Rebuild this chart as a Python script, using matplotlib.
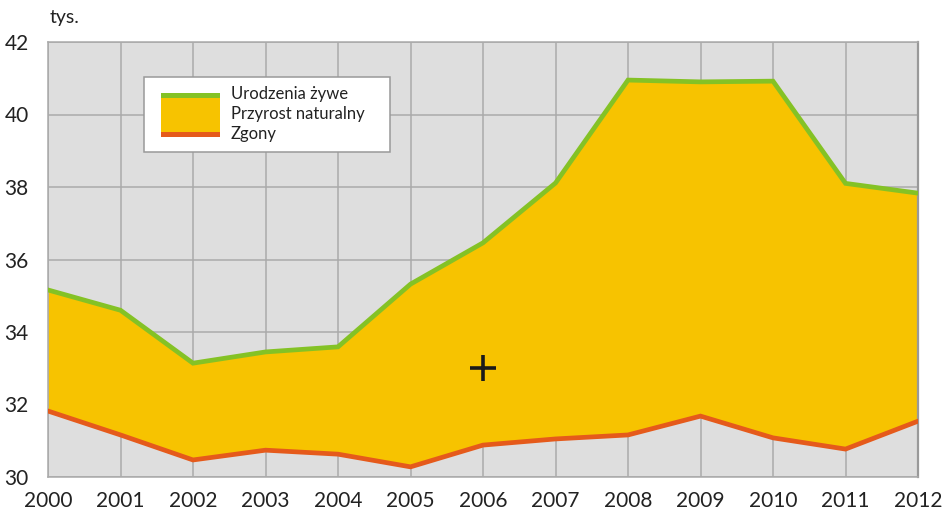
import matplotlib
matplotlib.use('Agg')
import matplotlib.pyplot as plt
from matplotlib.patches import Rectangle

# dane: urodzenia i zgony (tys.)
years = [2000, 2001, 2002, 2003, 2004, 2005, 2006, 2007, 2008, 2009, 2010, 2011, 2012]
births = [35.16, 34.6, 33.14, 33.45, 33.59, 35.32, 36.46, 38.11, 40.95, 40.9, 40.92, 38.1, 37.83]
deaths = [31.82, 31.16, 30.47, 30.74, 30.63, 30.28, 30.88, 31.05, 31.16, 31.68, 31.08, 30.77, 31.54]
y_ticks = [30, 32, 34, 36, 38, 40, 42]
legend_labels = ['Urodzenia żywe', 'Przyrost naturalny', 'Zgony']
marker_point = (2006, 33)

green = '#84c225'
orange = '#e55a1b'
yellow = '#f7c300'
grid_c = '#aaaaaa'

plt.rcParams['font.family'] = ['Lato', 'DejaVu Sans']

fig = plt.figure(figsize=(9.42, 5.09), dpi=100)
ax = fig.add_axes([48 / 942, 1 - 477 / 509, 870 / 942, 435 / 509])
ax.set_facecolor('#dedede')

ax.fill_between(years, deaths, births, color=yellow, zorder=2, linewidth=0)
ax.plot(years, births, color=green, lw=3.4, zorder=3, solid_joinstyle='miter')
ax.plot(years, deaths, color=orange, lw=3.4, zorder=3, solid_joinstyle='miter')
ax.plot(*marker_point, marker='+', color='#1a1a1a', ms=19, mew=2.6, zorder=4)

ax.set_xlim(years[0], years[-1])
ax.set_ylim(y_ticks[0], y_ticks[-1])
ax.set_xticks(years)
ax.set_yticks(y_ticks)
ax.grid(True, color=grid_c, lw=1.1, zorder=1)
ax.set_axisbelow(True)
ax.tick_params(length=0, labelsize=15, colors='#222222')
ax.tick_params(axis='y', pad=14)
ax.tick_params(axis='x', pad=10)
for s in ax.spines.values():
    s.set_color(grid_c)
    s.set_linewidth(1.1)
ax.spines['right'].set_color('#999999')
ax.spines['right'].set_linewidth(1.6)

fig.text(50 / 942, 1 - 17 / 509, 'tys.', fontsize=14, color='#222222', va='center')

# legenda rysowana recznie (jeden wspolny symbol)
def px(x, y):
    return x / 942, 1 - y / 509

lx, ly = px(144, 152)
fig.patches.append(Rectangle((lx, ly), 246 / 942, 75 / 509, transform=fig.transFigure,
                             facecolor='white', edgecolor='#999999', lw=1.1, zorder=5))
sx, sy = px(161, 137)
fig.patches.append(Rectangle((sx, sy), 59 / 942, 44 / 509, transform=fig.transFigure,
                             facecolor=yellow, edgecolor='none', zorder=6))
gx, gy = px(161, 98)
fig.patches.append(Rectangle((gx, gy), 59 / 942, 5 / 509, transform=fig.transFigure,
                             facecolor=green, edgecolor='none', zorder=7))
ox, oy = px(161, 137)
fig.patches.append(Rectangle((ox, oy), 59 / 942, 5 / 509, transform=fig.transFigure,
                             facecolor=orange, edgecolor='none', zorder=7))
for i, lab in enumerate(legend_labels):
    tx, ty = px(231, 94 + i * 20)
    fig.text(tx, ty, lab, fontsize=12, color='#222222', va='center', zorder=8)

fig.savefig('out.png', dpi=100)
